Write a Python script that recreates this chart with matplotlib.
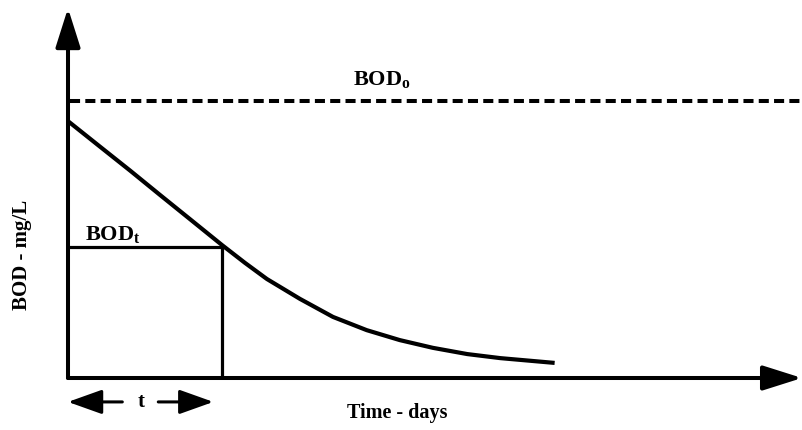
import numpy as np
import matplotlib
matplotlib.use("Agg")
import matplotlib.pyplot as plt

plt.rcParams['font.family'] = ['Liberation Serif', 'DejaVu Serif']
plt.rcParams['font.weight'] = 'bold'
plt.rcParams['mathtext.fontset'] = 'custom'
plt.rcParams['mathtext.rm'] = 'Liberation Serif:bold'
plt.rcParams['mathtext.it'] = 'Liberation Serif:bold'

# BOD remaining curve (time in days, BOD in mg/L, schematic units)
time_days = [0.0, 0.44, 0.85, 1.25, 1.66, 2.10, 2.41, 2.71, 3.16, 3.61, 4.07,
             4.52, 4.97, 5.44, 5.89, 6.63]
bod_remaining = [6.98, 6.28, 5.63, 4.98, 4.32, 3.61, 3.13, 2.69, 2.15, 1.66, 1.30,
                 1.03, 0.82, 0.65, 0.54, 0.41]

bod_0 = 7.53        # ultimate BOD (dashed line)
t_mark = 2.10       # chosen time t
bod_t = 3.56        # BOD at time t

x_max, y_max = 10, 10

fig = plt.figure(figsize=(8.02, 4.30), dpi=100)
ax = fig.add_axes([68/802, 52/430, 734/802, 368/430])
ax.set_xlim(0, x_max)
ax.set_ylim(0, y_max)
ax.axis('off')

# axes drawn as arrows
axis_arrow = dict(arrowstyle='-|>,head_length=0.6,head_width=0.19',
                  mutation_scale=40, lw=2.9, color='k', shrinkA=0, shrinkB=0)
ax.annotate('', xy=(0, y_max + 0.05), xytext=(0, 0), annotation_clip=False,
            arrowprops=axis_arrow)
ax.annotate('', xy=(x_max, 0), xytext=(0, 0), annotation_clip=False,
            arrowprops=axis_arrow)

# BOD_0 dashed line
ax.plot([0.03, x_max], [bod_0, bod_0], color='k', lw=2.9, dashes=(2.5, 1.3),
        solid_capstyle='butt', dash_capstyle='butt', clip_on=False)

# BOD curve
ax.plot(time_days, bod_remaining, color='k', lw=3.0, solid_capstyle='butt',
        solid_joinstyle='round')

# box at time t
ax.plot([0, t_mark], [bod_t, bod_t], color='k', lw=2.3)
ax.plot([t_mark, t_mark], [0, bod_t], color='k', lw=2.3)

# t arrows under the axis
t_arrow = dict(arrowstyle='-|>,head_length=0.7,head_width=0.25',
               mutation_scale=30, lw=2.2, color='k', shrinkA=0, shrinkB=0)
ax.annotate('', xy=(0, -0.65), xytext=(0.74, -0.65), annotation_clip=False,
            arrowprops=t_arrow)
ax.annotate('', xy=(1.98, -0.65), xytext=(1.23, -0.65), annotation_clip=False,
            arrowprops=t_arrow)
ax.text(0.99, -0.65, 't', ha='center', va='center', fontsize=15, clip_on=False)

# labels
ax.text(3.88, 7.96, r'BOD$_{\mathrm{o}}$', ha='left', va='baseline', fontsize=16)
ax.text(0.23, 3.75, r'BOD$_{\mathrm{t}}$', ha='left', va='baseline', fontsize=16)
ax.text(4.48, -0.95, 'Time - days', ha='center', va='center', fontsize=14.5,
        clip_on=False)
ax.text(-0.63, 3.34, 'BOD - mg/L', ha='center', va='center', rotation=90,
        fontsize=15, clip_on=False)

fig.savefig('out.png', dpi=100, facecolor='white')
